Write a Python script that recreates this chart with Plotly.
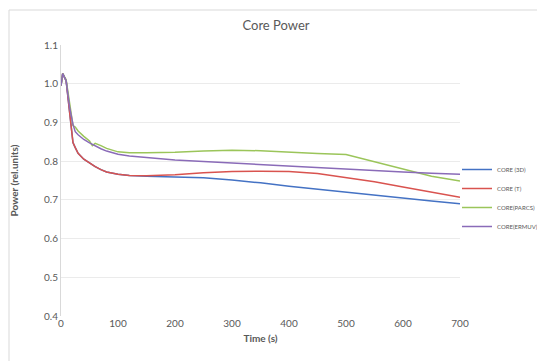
import plotly.graph_objects as go

time_s = [0, 3, 9, 15, 21, 25, 30, 40, 50, 55, 60, 70, 80, 100, 120, 150, 200,
          250, 300, 350, 400, 450, 500, 550, 600, 650, 700]

core_3d = [0.995, 1.026, 1.008, 0.93, 0.848, 0.835, 0.82, 0.805, 0.795, 0.79, 0.786,
           0.778, 0.772, 0.766, 0.763, 0.761, 0.759, 0.757, 0.751, 0.744, 0.735,
           0.727, 0.72, 0.712, 0.705, 0.697, 0.69]
core_t = [0.995, 1.026, 1.008, 0.93, 0.848, 0.835, 0.82, 0.805, 0.795, 0.79, 0.786,
          0.778, 0.772, 0.766, 0.763, 0.762, 0.765, 0.77, 0.773, 0.774, 0.773,
          0.768, 0.758, 0.747, 0.733, 0.72, 0.707]
core_parcs = [0.995, 1.026, 1.01, 0.95, 0.892, 0.888, 0.878, 0.864, 0.852, 0.84, 0.846,
              0.84, 0.833, 0.824, 0.822, 0.822, 0.823, 0.826, 0.828, 0.827, 0.823,
              0.82, 0.817, 0.798, 0.779, 0.761, 0.749]
core_ermuv = [0.995, 1.026, 1.008, 0.94, 0.895, 0.876, 0.868, 0.856, 0.847, 0.843, 0.838,
              0.832, 0.826, 0.818, 0.813, 0.809, 0.803, 0.799, 0.795, 0.791, 0.787,
              0.783, 0.78, 0.776, 0.772, 0.769, 0.766]

series_names = ["CORE (3D)", "CORE (T)", "CORE(PARCS)", "CORE(ERMUV)"]
series_values = [core_3d, core_t, core_parcs, core_ermuv]
colors = ["#4472C4", "#D9534F", "#9BC55A", "#8A6BB8"]

y_ticks = [0.4, 0.5, 0.6, 0.7, 0.8, 0.9, 1.0, 1.1]
x_ticks = [0, 100, 200, 300, 400, 500, 600, 700]

fig = go.Figure()
for name, vals, col in zip(series_names, series_values, colors):
    fig.add_trace(go.Scatter(x=time_s, y=vals, mode="lines", name=name,
                             line=dict(color=col, width=1.5)))

# page has an 8px body margin: figure coordinates = page coordinates - 8
OFF = 8
W, H = 545 - OFF, 361 - OFF
ml, mt = 61 - OFF, 45 - OFF
plot_right, plot_bottom = 460 - OFF, 316 - OFF
mr, mb = W - plot_right, H - plot_bottom
pw, ph = plot_right - ml, plot_bottom - mt
bx = (9 - OFF - ml) / pw
by = 1 + (mt - (10 - OFF)) / ph
leg_x = (457 - OFF - ml) / pw
leg_y = 1 - (198 - OFF - mt) / ph

fig.update_layout(
    width=W, height=H,
    margin=dict(l=ml, r=mr, t=mt, b=mb, autoexpand=False),
    paper_bgcolor="white", plot_bgcolor="white",
    font=dict(family="Lato, Carlito, Calibri, sans-serif", color="#595959", size=10),
    title=dict(text="Core Power", x=(276 - OFF) / W, xanchor="center",
               y=1 - (25 - OFF) / H, yanchor="middle", font=dict(size=13, color="#595959")),
    xaxis=dict(range=[0, 700], tickvals=x_ticks, showgrid=False, zeroline=False,
               showline=False, ticks="", tickfont=dict(size=10, color="#595959"),
               title=dict(text="<b>Time (s)</b>", font=dict(size=10, color="#595959"),
                          standoff=6)),
    yaxis=dict(range=[0.4, 1.1], tickvals=y_ticks, tickformat=".1f", showgrid=True,
               gridcolor="#EBEBEB", gridwidth=1, zeroline=False, showline=True,
               linecolor="#D9D9D9", linewidth=1, ticks="",
               tickfont=dict(size=10, color="#595959"),
               title=dict(text="<b>Power (rel.units)</b>", font=dict(size=10, color="#595959"),
                          standoff=24)),
    legend=dict(x=leg_x, y=leg_y, xanchor="left", yanchor="middle",
                font=dict(size=6, color="#595959"), bgcolor="rgba(0,0,0,0)",
                tracegroupgap=0, itemwidth=30),
    shapes=[
        dict(type="line", xref="paper", yref="paper", x0=bx, x1=bx, y0=-1, y1=by,
             line=dict(color="#D9D9D9", width=1)),
        dict(type="line", xref="paper", yref="paper", x0=bx, x1=2, y0=by, y1=by,
             line=dict(color="#D9D9D9", width=1)),
    ],
)

fig.write_html("out.html")
